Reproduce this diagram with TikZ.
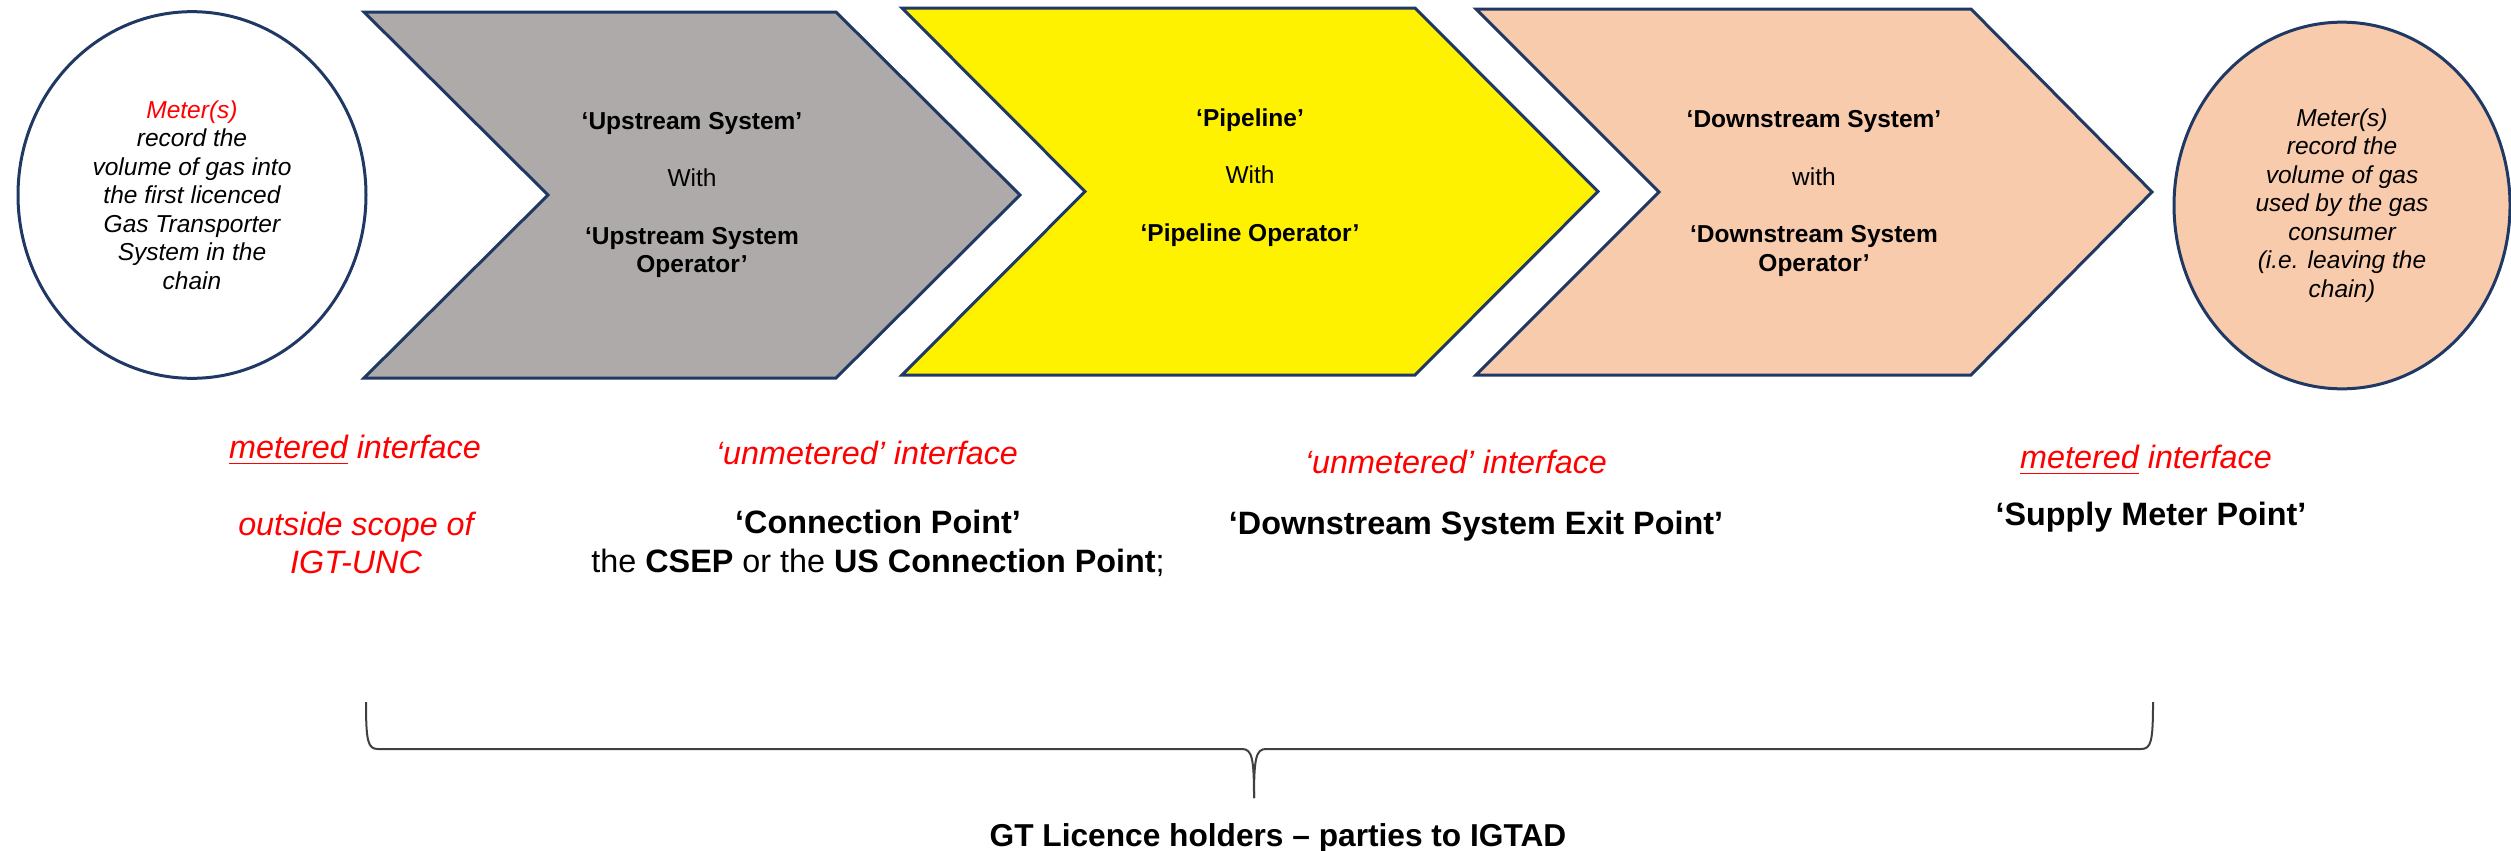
\documentclass[tikz,border=0pt]{standalone}
\usepackage{fontspec}
\setmainfont{Liberation Sans}
\usetikzlibrary{shapes.geometric}
\definecolor{navy}{HTML}{1F3864}
\definecolor{greybox}{HTML}{AEAAAA}
\definecolor{peach}{HTML}{F8CBAD}
\definecolor{bracegrey}{HTML}{404040}

\begin{document}
\begin{tikzpicture}[x=0.3pt,y=-0.3pt,
    chevron/.style={draw=navy, line width=0.9pt, line join=miter},
    meterbox/.style={ellipse, draw=navy, line width=0.9pt, inner sep=0pt, minimum width=104.4pt, minimum height=110pt, align=center, font=\fontsize{7.35}{8.55}\selectfont\itshape},
    stage/.style={align=center, font=\fontsize{7.35}{8.55}\selectfont},
    iface/.style={align=center, font=\fontsize{9.7}{11.5}\selectfont},
    redtext/.style={iface, text=red, font=\fontsize{9.7}{11.5}\selectfont\itshape},
  ]
    \useasboundingbox (0,0) rectangle (2511,850);

    % the chain of systems
    \filldraw[chevron, fill=greybox] (364,12) -- (836,12) -- (1020,195) -- (836,378) -- (364,378) -- (548,195) -- cycle;
    \filldraw[chevron, fill=yellow] (902,8) -- (1415,8) -- (1598,191.5) -- (1415,375) -- (902,375) -- (1085,191.5) -- cycle;
    \filldraw[chevron, fill=peach] (1476,9) -- (1971,9) -- (2152,192) -- (1971,375) -- (1476,375) -- (1659,192) -- cycle;

    \node[stage] (us) at (692,195) {\textbf{‘Upstream System’}\\[8.7pt]With\\[8.7pt]\textbf{‘Upstream System}\\\textbf{Operator’}};
    \node[stage] (pl) at (1250,177.5) {\textbf{‘Pipeline’}\\[8.7pt]With\\[8.7pt]\textbf{‘Pipeline Operator’}};
    \node[stage] (ds) at (1814,193.3) {\textbf{‘Downstream System’}\\[8.7pt]with\\[8.7pt]\textbf{‘Downstream System}\\\textbf{Operator’}};

    % meters at each end
    \node[meterbox, fill=white] (entry) at (192,195) {\textcolor{red}{Meter(s)}\\record the\\volume of gas into\\the first licenced\\Gas Transporter\\System in the\\chain};
    \node[meterbox, fill=peach, minimum width=100.8pt] (exit) at (2342,205.5) {Meter(s)\\record the\\volume of gas\\used by the gas\\consumer\\(i.e. leaving the\\chain)};

    % interfaces
    \node[redtext] (m1) at (355,450) {\underline{metered} interface};
    \node[redtext] (m1b) at (356,543) {outside scope of\\IGT-UNC};
    \node[redtext] (u1) at (867,453) {‘unmetered’ interface};
    \node[iface] (u1b) at (878,543.5) {\textbf{‘Connection Point’}\\the \textbf{CSEP} or the \textbf{US Connection Point};};
    \node[redtext] (u2) at (1456,461.7) {‘unmetered’ interface};
    \node[iface] (u2b) at (1476,526) {\textbf{‘Downstream System Exit Point’}};
    \node[redtext] (m2) at (2146,460) {\underline{metered} interface};
    \node[iface] (m2b) at (2151,516.7) {\textbf{‘Supply Meter Point’}};

    % brace over the licence holders
    \coordinate (bl) at (366,702);
    \coordinate (tip) at (1254,798);
    \coordinate (br) at (2153,702);
    \draw[bracegrey, line width=0.6pt] (bl) .. controls (366,742) and (368,749) .. (378,749) -- (1242,749)
        .. controls (1252,749) and (1254,758) .. (tip);
    \draw[bracegrey, line width=0.6pt] (tip) .. controls (1254,758) and (1256,749) .. (1266,749) -- (2141,749)
        .. controls (2151,749) and (2153,742) .. (br);
    \node[iface, anchor=base, font=\fontsize{9.5}{11.5}\selectfont\bfseries] (gt) at (1278,846.7) {GT Licence holders – parties to IGTAD};
\end{tikzpicture}
\end{document}
